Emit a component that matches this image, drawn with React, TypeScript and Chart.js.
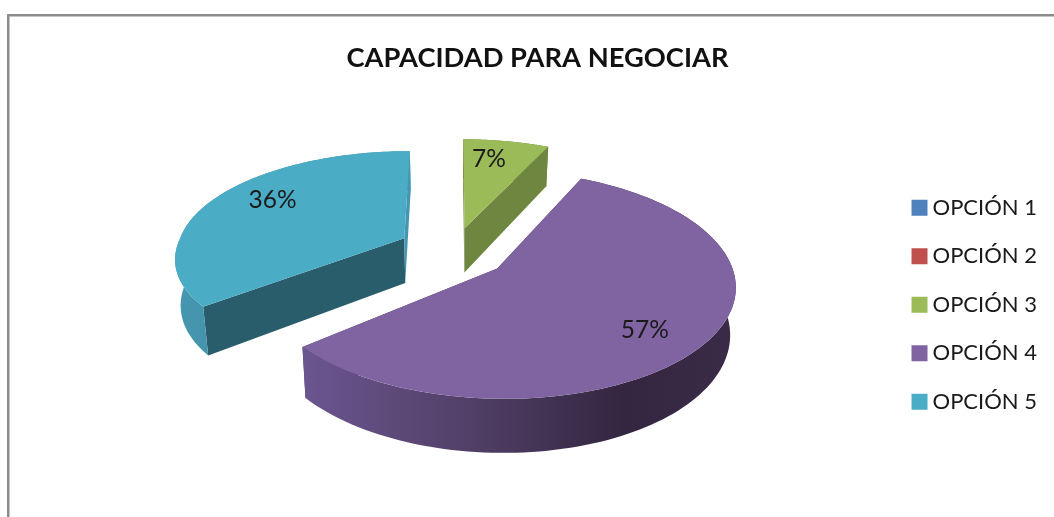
import React, { useEffect, useRef } from "react";
import { Chart, registerables } from "chart.js";

Chart.register(...registerables);

const TITLE = "CAPACIDAD PARA NEGOCIAR";
const categories = ["OPCIÓN 1", "OPCIÓN 2", "OPCIÓN 3", "OPCIÓN 4", "OPCIÓN 5"];
const values = [0, 0, 7, 57, 36];

const colors = ["#4f81bd", "#c0504d", "#9bbb59", "#8064a2", "#4bacc6"];
const cutStartColors = ["#3a5f8c", "#8e3b39", "#6f8640", "#4f3e62", "#2a5d6b"];
const cutEndColors = ["#3a5f8c", "#8e3b39", "#6f8640", "#4f3e62", "#4596b0"];
const wallStops: (string | [number, string][])[] = [
  "#3a5f8c",
  "#8e3b39",
  "#6f8640",
  [[0.0, "#6b5690"], [0.39, "#513f66"], [0.74, "#342641"], [1.0, "#3a2c48"]],
  [[0.0, "#4596ae"], [0.8, "#3b8aa3"], [1.0, "#4596b0"]],
];

// Projection of the pie plane onto the screen (a tilted, exploded 3D pie)
const X0 = 453, Y0 = 252.5, RX = 230.5, RY = 107.5, PERSP = 0.138;
const DEPTH = 45.5, BOTTOM_SCALE = 0.98, EXPLODE = 0.238;
const LABEL_FRACTION = 0.78;
const sliceShiftV = [0, 0, 0, 0, -0.0325];
const sliceScaleV = [1, 1, 1, 1, 0.95];
const sliceScaleU = [1, 1, 1, 1, 0.99];
const sliceBulgeU = [0, 0, 0, 0, 0.058];
const labelNudgeX = [0, 0, -9, -11, 19];
const labelNudgeY = [0, 0, 1, 4, -5];

const project = (u: number, v: number, lower = false) => {
  const w = 1 - PERSP * v;
  const k = lower ? BOTTOM_SCALE : 1;
  return {
    x: X0 + (k * RX * u) / w,
    y: Y0 + (RY * v) / w + (lower ? DEPTH / w : 0),
  };
};

const pie3d = {
  id: "pie3d",
  beforeDraw(chart: any) {
    const { ctx, width, height } = chart;
    ctx.save();
    ctx.fillStyle = "#ffffff";
    ctx.fillRect(0, 0, width, height);
    ctx.strokeStyle = "#8c8c8c";
    ctx.lineWidth = 2.5;
    ctx.beginPath();
    ctx.moveTo(8.25, height);
    ctx.lineTo(8.25, 15.25);
    ctx.lineTo(width, 15.25);
    ctx.stroke();
    ctx.restore();
  },
  beforeDatasetsDraw(chart: any) {
    const { ctx } = chart;
    const arcs = chart.getDatasetMeta(0).data;
    const total = values.reduce((a, b) => a + b, 0);
    const items = arcs
      .map((arc: any, i: number) => {
        const { startAngle, endAngle } = arc.getProps(["startAngle", "endAngle"], true);
        const mid = (startAngle + endAngle) / 2;
        return {
          i,
          startAngle,
          endAngle,
          mid,
          cu: EXPLODE * Math.cos(mid),
          cv: EXPLODE * Math.sin(mid) + sliceShiftV[i],
          su: sliceScaleU[i],
          sv: sliceScaleV[i],
          bulge: sliceBulgeU[i],
        };
      })
      .filter((it: any) => values[it.i] > 0)
      .sort((a: any, b: any) => a.cv - b.cv);

    const poly = (pts: { x: number; y: number }[], fill: any) => {
      ctx.beginPath();
      pts.forEach((p, n) => (n ? ctx.lineTo(p.x, p.y) : ctx.moveTo(p.x, p.y)));
      ctx.closePath();
      ctx.fillStyle = fill;
      ctx.fill();
    };

    for (const it of items) {
      const steps = 120;
      const upper: { x: number; y: number }[] = [];
      const lower: { x: number; y: number }[] = [];
      for (let s = 0; s <= steps; s++) {
        const a = it.startAngle + ((it.endAngle - it.startAngle) * s) / steps;
        const dv = it.sv * Math.sin(a);
        const u = it.cu + it.su * Math.cos(a) - it.bulge * Math.max(0, dv);
        const v = it.cv + dv;
        upper.push(project(u, v));
        lower.push(project(u, v, true));
      }
      const apexTop = project(it.cu, it.cv);
      const apexLow = project(it.cu, it.cv, true);

      poly([apexTop, upper[0], lower[0], apexLow], cutStartColors[it.i]);
      poly([apexTop, upper[steps], lower[steps], apexLow], cutEndColors[it.i]);

      const stops = wallStops[it.i];
      let wallFill: any = stops;
      if (Array.isArray(stops)) {
        const xs = upper.map((p) => p.x);
        const g = ctx.createLinearGradient(Math.min(...xs), 0, Math.max(...xs), 0);
        stops.forEach(([o, c]) => g.addColorStop(o, c));
        wallFill = g;
      }
      poly([...upper, ...lower.slice().reverse()], wallFill);
      poly([apexTop, ...upper], colors[it.i]);
    }

    ctx.save();
    ctx.fillStyle = "#1a1a1a";
    ctx.font = "24.5px Lato";
    ctx.textAlign = "center";
    ctx.textBaseline = "middle";
    for (const it of items) {
      const p = project(
        it.cu + LABEL_FRACTION * Math.cos(it.mid),
        it.cv + LABEL_FRACTION * Math.sin(it.mid)
      );
      ctx.fillText(
        `${Math.round((values[it.i] / total) * 100)}%`,
        p.x + labelNudgeX[it.i],
        p.y + labelNudgeY[it.i]
      );
    }
    ctx.restore();
    return false;
  },
};

export default function App() {
  const ref = useRef<HTMLCanvasElement>(null);
  useEffect(() => {
    const baseLabels = (Chart as any).overrides.pie.plugins.legend.labels.generateLabels;
    const chart = new Chart(ref.current!, {
      type: "pie",
      data: {
        labels: categories,
        datasets: [{ data: values, backgroundColor: colors, borderWidth: 0 }],
      },
      options: {
        responsive: false,
        animation: false,
        events: [],
        layout: { padding: { left: 28, right: 7, top: 0, bottom: 0 } },
        plugins: {
          tooltip: { enabled: false },
          title: {
            display: true,
            text: TITLE,
            color: "#111111",
            font: { family: "Lato", size: 27.3, weight: "bold" },
            padding: { top: 42, bottom: 95.5 },
          },
          legend: {
            position: "right",
            align: "start",
            fullSize: false,
            labels: {
              color: "#1a1a1a",
              font: { family: "Lato", size: 22 },
              boxWidth: 4,
              boxHeight: 4,
              padding: 26.5,
              generateLabels: (c: any) =>
                baseLabels(c).map((item: any) => ({
                  ...item,
                  lineWidth: 12,
                  strokeStyle: item.fillStyle,
                })),
            },
          },
        },
      },
      plugins: [pie3d],
    } as any);
    return () => chart.destroy();
  }, []);
  return (
    <canvas
      ref={ref}
      width={1054}
      height={517}
      style={{ position: "fixed", left: 0, top: 0, width: 1054, height: 517, filter: "blur(0.4px)" }}
    />
  );
}
